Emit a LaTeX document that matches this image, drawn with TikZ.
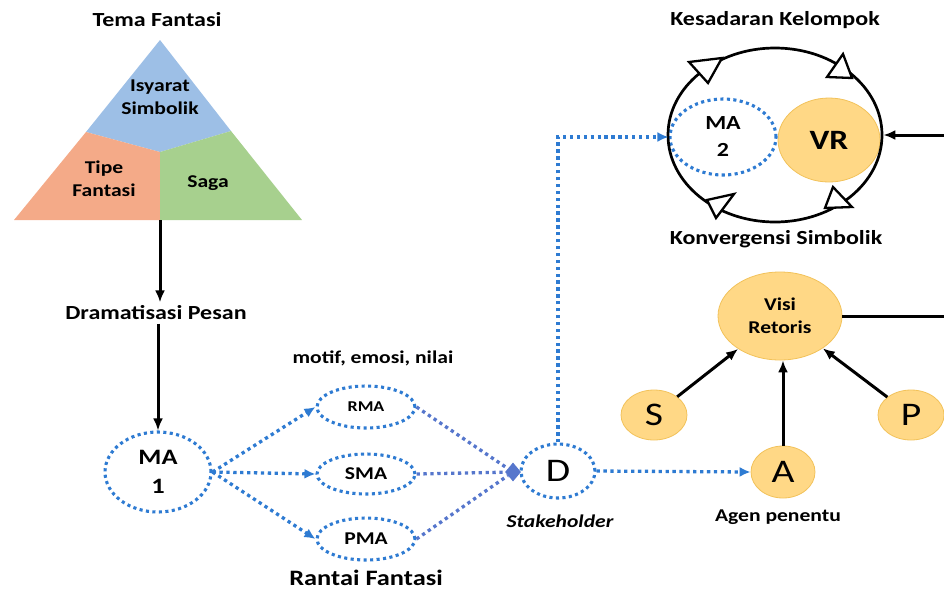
\documentclass[tikz,border=0pt]{standalone}
\usepackage{fontspec}
\setmainfont{Carlito}[FakeStretch=1.2]
\usetikzlibrary{arrows.meta,shapes.geometric}

\definecolor{dotblue}{HTML}{2E7BD2}
\definecolor{chainblue}{HTML}{5676CC}
\definecolor{vrgold}{HTML}{FFD886}
\definecolor{goldline}{HTML}{F2C25A}
\definecolor{triblue}{HTML}{9DBFE6}
\definecolor{trired}{HTML}{F4AA88}
\definecolor{trigreen}{HTML}{A7D08E}

\tikzset{
  dotline/.style={draw=dotblue, line width=3.3pt, dash pattern=on 3.3pt off 3.6pt},
  dotarrow/.style={dotline, -{Latex[length=11pt,width=10pt]}},
  chainline/.style={draw=chainblue, line width=3.3pt, dash pattern=on 3.3pt off 3.6pt},
  dotell/.style={ellipse, draw=dotblue, line width=3.1pt, dash pattern=on 3.1pt off 3.4pt, inner sep=0pt},
  goldell/.style={ellipse, fill=vrgold, draw=goldline, line width=0.8pt, inner sep=0pt},
  blackarrow/.style={draw=black, line width=3pt, -{Latex[length=12pt,width=10pt]}},
  heading/.style={font=\bfseries\fontsize{20}{24}\selectfont},
  lab/.style={font=\bfseries\fontsize{18}{23}\selectfont, align=center},
  letter/.style={font=\fontsize{33}{36}\selectfont},
  opentri/.style={draw=black, fill=white, line width=2.3pt, line join=miter}
}

\begin{document}
\begin{tikzpicture}[x=1pt, y=-1pt]
\useasboundingbox (0,0) rectangle (944,590);

% ---- fantasy theme pyramid ----
\fill[triblue] (160,40) -- (231,131) -- (160,152) -- (86,132) -- cycle;
\fill[trired] (86,132) -- (160,152) -- (160,220) -- (14,220) -- cycle;
\fill[trigreen] (160,152) -- (231,131) -- (302,220) -- (160,220) -- cycle;
\coordinate (tribase) at (160,220);

\node[heading] (tema) at (157,20) {Tema Fantasi};
\node[lab] (isyarat) at (160,97) {Isyarat\\Simbolik};
\node[lab] (tipe) at (104,179) {Tipe\\Fantasi};
\node[lab] (saga) at (208,183) {Saga};

% ---- message dramatisation ----
\node[heading] (drama) at (156,313) {Dramatisasi Pesan};
\node[dotell, minimum width=106pt, minimum height=80pt,
      font=\bfseries\fontsize{22}{29}\selectfont, align=center] (ma1) at (158,472) {MA\\1};

\draw[blackarrow] (tribase) -- (tribase |- drama.north);
\draw[blackarrow] (ma1.north |- drama.south) -- (ma1.north);

% ---- fantasy chain ----
\node[lab] (motif) at (373,358) {motif, emosi, nilai};
\node[dotell, minimum width=98pt, minimum height=42pt,
      font=\bfseries\fontsize{15}{18}\selectfont] (rma) at (366,407) {RMA};
\node[dotell, minimum width=98pt, minimum height=40pt,
      font=\bfseries\fontsize{18}{21}\selectfont] (sma) at (366,474) {SMA};
\node[dotell, minimum width=98pt, minimum height=42pt,
      font=\bfseries\fontsize{18}{21}\selectfont] (pma) at (366,539) {PMA};
\node[font=\bfseries\fontsize{22}{26}\selectfont] (rantai) at (366,578) {Rantai Fantasi};

\draw[dotarrow] (ma1.east) -- (rma.west);
\draw[dotarrow] (ma1.east) -- (sma.west);
\draw[dotarrow] (ma1.east) -- (pma.west);

% ---- stakeholder ----
\node[dotell, minimum width=74pt, minimum height=54pt, letter] (d) at (558,471) {D};
\node[diamond, fill=chainblue, inner sep=0pt, minimum width=16pt, minimum height=19pt] (conv) at (513,472) {};
\draw[chainline] (rma.east) -- (conv);
\draw[chainline] (sma.east) -- (conv);
\draw[chainline] (pma.east) -- (conv);
\node[font=\bfseries\itshape\fontsize{18}{21}\selectfont] (stake) at (560,521) {Stakeholder};

% ---- group consciousness cycle ----
\node[heading] (kesadaran) at (775,20) {Kesadaran Kelompok};
\node[heading] (konvergensi) at (776,239) {Konvergensi Simbolik};
\node[goldell, minimum width=102pt, minimum height=84pt,
      font=\bfseries\fontsize{28}{32}\selectfont] (vr) at (829,140) {VR};
\node[dotell, minimum width=106pt, minimum height=76pt,
      font=\bfseries\fontsize{20}{27}\selectfont, align=center] (ma2) at (723,137) {MA\\2};
\node[ellipse, draw=black, line width=2.7pt, inner sep=0pt,
      minimum width=214pt, minimum height=174pt] (big) at (775,135) {};

\draw[opentri] (689,62) -- (722,58) -- (708,83) -- cycle;
\draw[opentri] (843,54) -- (827,77) -- (852,78) -- cycle;
\draw[opentri] (707,200) -- (734,194) -- (716,218) -- cycle;
\draw[opentri] (833,187) -- (825,208) -- (852,207) -- cycle;

\draw[dotarrow] (d.north) |- (ma2.west);

% ---- rhetorical vision ----
\node[goldell, minimum width=124pt, minimum height=88pt, lab] (visi) at (780,316) {Visi\\Retoris};
\node[goldell, minimum width=66pt, minimum height=50pt, letter] (s) at (654,415) {S};
\node[goldell, minimum width=66pt, minimum height=50pt, letter] (p) at (911,415) {P};
\node[goldell, minimum width=64pt, minimum height=52pt, letter] (a) at (783,472) {A};
\node[lab] (agen) at (778,517) {Agen penentu};

\draw[blackarrow] (s) -- (visi);
\draw[blackarrow] (p) -- (visi);
\draw[blackarrow] (a.north) -- (a.north |- visi.south);
\draw[dotarrow] (d.east) -- (a.west);

\coordinate (visiout) at (944,316);
\coordinate (vrin) at (944,135);
\draw[line width=3pt] (visi.east) -- (visiout);
\draw[blackarrow] (vrin) -- (big.east);
\end{tikzpicture}
\end{document}
